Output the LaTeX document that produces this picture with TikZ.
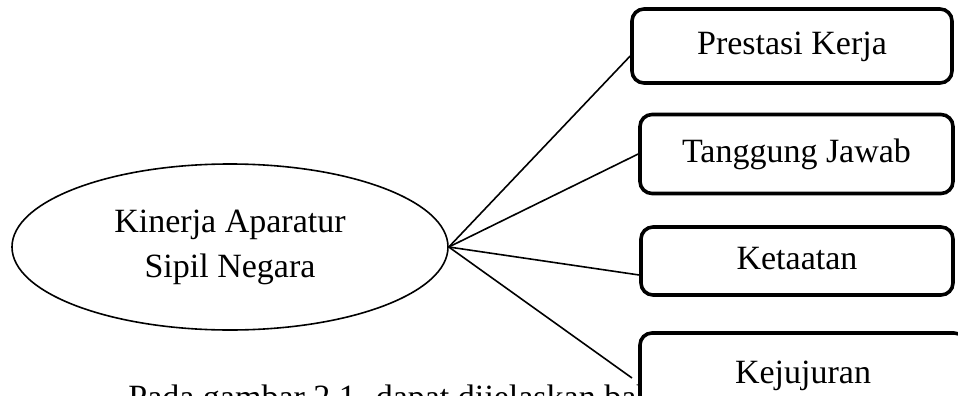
\documentclass[tikz,border=0pt]{standalone}
\usepackage{fontspec}
\setmainfont{Liberation Serif}
\usetikzlibrary{shapes.geometric}

\begin{document}
\begin{tikzpicture}[x=0.5pt,y=-0.5pt]

  \tikzstyle{konsep}=[draw, ellipse, line width=0.8pt, minimum width=218pt,
                      minimum height=83pt, align=center,
                      font=\fontsize{17}{22.5}\selectfont]
  \tikzstyle{aspek}=[draw, rectangle, rounded corners=6pt, line width=1.8pt,
                     fill=white, minimum width=156pt,
                     text height=12pt, text depth=3.7pt,
                     font=\fontsize{17}{20}\selectfont]
  \tikzstyle{keterangan}=[inner sep=0pt, font=\fontsize{17}{20}\selectfont]
  \tikzstyle{cabang}=[line width=0.8pt]

  \useasboundingbox (0,0) rectangle (958,396);
  \clip (0,0) rectangle (958,396);

  % teks paragraf di bawah gambar
  \path
  (128,408) node[keterangan, anchor=base west](paragraf){Pada gambar 2.1. dapat dijelaskan bah};

  \path
  (230,247) node[konsep](kinerja){Kinerja Aparatur\\Sipil Negara};

  \path
  (792,46)    node[aspek, minimum width=160pt, minimum height=37pt](prestasi){Prestasi Kerja}
  (796.5,154) node[aspek, minimum width=156.5pt, minimum height=39.5pt](tanggung){Tanggung Jawab}
  (797,261)   node[aspek, minimum width=156pt, minimum height=34pt](ketaatan){Ketaatan}
  (803,375)   node[aspek, minimum width=163pt, minimum height=42pt](kejujuran){Kejujuran};

  \coordinate (ujung) at (632,378);

  \draw[cabang] (kinerja.east)--([yshift=-5pt]prestasi.west);
  \draw[cabang] (kinerja.east)--(tanggung.west);
  \draw[cabang] (kinerja.east)--([yshift=-7pt]ketaatan.west);
  \draw[cabang] (kinerja.east)--(ujung);

\end{tikzpicture}
\end{document}
